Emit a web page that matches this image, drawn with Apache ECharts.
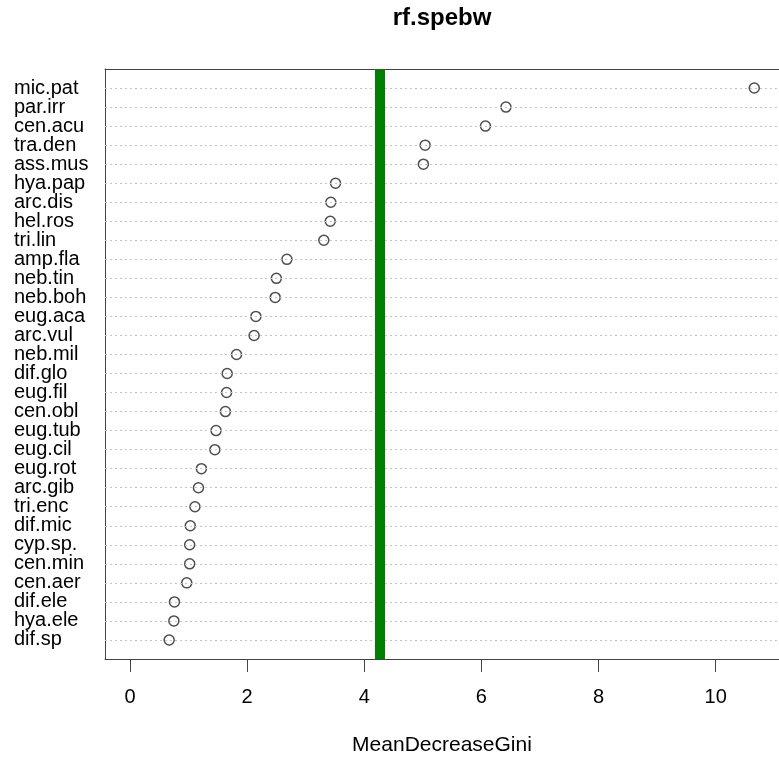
<!DOCTYPE html>
<html>
<head>
<meta charset="utf-8">
<script src="https://cdn.jsdelivr.net/npm/echarts@6/dist/echarts.min.js"></script>
<style>
  html, body { margin: 0; padding: 0; background: #fff; }
  #chart { width: 779px; height: 761px; }
</style>
</head>
<body>
<div id="chart"></div>
<script>
  // rows top to bottom, as in the dot chart
  const species = ['mic.pat', 'par.irr', 'cen.acu', 'tra.den', 'ass.mus', 'hya.pap', 'arc.dis', 'hel.ros',
    'tri.lin', 'amp.fla', 'neb.tin', 'neb.boh', 'eug.aca', 'arc.vul', 'neb.mil', 'dif.glo', 'eug.fil',
    'cen.obl', 'eug.tub', 'eug.cil', 'eug.rot', 'arc.gib', 'tri.enc', 'dif.mic', 'cyp.sp.', 'cen.min',
    'cen.aer', 'dif.ele', 'hya.ele', 'dif.sp'];
  const gini = [10.66, 6.42, 6.07, 5.04, 5.01, 3.51, 3.43, 3.42,
    3.31, 2.68, 2.50, 2.48, 2.15, 2.12, 1.82, 1.66, 1.65,
    1.63, 1.47, 1.45, 1.22, 1.17, 1.11, 1.03, 1.02, 1.02,
    0.97, 0.76, 0.75, 0.67];
  const cutoff = 4.27;
  const xTicks = [0, 2, 4, 6, 8, 10];

  const n = species.length;
  const rows = species.map((s, i) => n - i);
  // padding values 0 and n+1 are the (hidden) min/max labels
  const labelRows = [0].concat(rows.slice().reverse(), [n + 1]);
  const font = 'Liberation Sans, Arial, Helvetica, sans-serif';

  let mychart = echarts.init(document.getElementById('chart'));
  const option = {
    animation: false,
    backgroundColor: '#fff',
    grid: {
      left: 105,
      top: 69,
      right: -8,
      bottom: 96.5,
      containLabel: false
    },
    xAxis: [{
      type: 'value',
      position: 'bottom',
      min: -0.426,
      max: 11.082,
      name: 'MeanDecreaseGini',
      nameLocation: 'middle',
      nameGap: 76,
      nameTextStyle: { fontFamily: font, fontSize: 21, color: '#000', verticalAlign: 'top' },
      axisLine: { show: true, onZero: false, lineStyle: { color: '#444', width: 1 } },
      axisTick: { show: true, length: 13, customValues: xTicks, lineStyle: { color: '#444' } },
      axisLabel: {
        customValues: xTicks,
        margin: 28,
        fontFamily: font,
        fontSize: 20,
        color: '#000'
      },
      splitLine: { show: false }
    }, {
      type: 'value',
      position: 'top',
      min: -0.426,
      max: 11.082,
      name: 'rf.spebw',
      nameLocation: 'middle',
      nameGap: 39,
      nameTextStyle: { fontFamily: font, fontSize: 24, fontWeight: 'bold', color: '#000', verticalAlign: 'bottom' },
      axisLine: { show: true, onZero: false, lineStyle: { color: '#444', width: 1 } },
      axisTick: { show: false },
      axisLabel: { show: false },
      splitLine: { show: false }
    }],
    yAxis: {
      type: 'value',
      min: 0,
      max: n + 1,
      axisLine: { show: true, onZero: false, lineStyle: { color: '#444', width: 1 } },
      axisTick: { show: false },
      axisLabel: {
        customValues: labelRows,
        showMinLabel: false,
        showMaxLabel: false,
        hideOverlap: false,
        align: 'left',
        margin: 91,
        fontFamily: font,
        fontSize: 20,
        color: '#000',
        formatter: function (v) {
          return (v >= 1 && v <= n) ? species[n - v] : '';
        }
      },
      splitLine: { show: false }
    },
    series: [{
      type: 'scatter',
      data: [],
      z: 1,
      silent: true,
      markLine: {
        silent: true,
        symbol: 'none',
        label: { show: false },
        lineStyle: { color: '#c4c4c4', width: 1, type: [2, 3] },
        data: rows.map(r => ({ yAxis: r }))
      }
    }, {
      type: 'scatter',
      data: [],
      z: 2,
      silent: true,
      markLine: {
        silent: true,
        symbol: 'none',
        label: { show: false },
        lineStyle: { color: '#007f00', width: 10, type: 'solid' },
        data: [{ xAxis: cutoff }]
      }
    }, {
      type: 'scatter',
      z: 3,
      symbol: 'circle',
      symbolSize: 10,
      itemStyle: { color: '#fff', borderColor: '#222', borderWidth: 1.5 },
      data: gini.map((v, i) => [v, rows[i]])
    }]
  };
  mychart.setOption(option);
</script>
</body>
</html>
